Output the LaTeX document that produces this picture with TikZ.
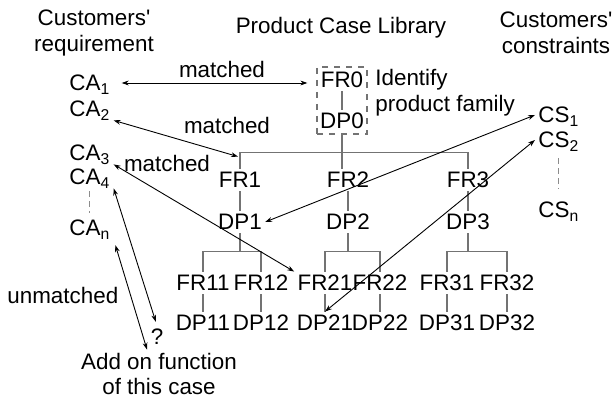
\documentclass[tikz,border=0pt]{standalone}
\usepackage{fontspec}
\setmainfont{Liberation Sans}[Ligatures=TeXOff]
\usetikzlibrary{arrows.meta, positioning}
\definecolor{treeGray}{gray}{0.45}
\definecolor{dashGray}{gray}{0.55}

\begin{document}
\begin{tikzpicture}[x=0.5pt, y=-0.5pt, >={Stealth[length=3.5pt,width=2.4pt]},
    every node/.style={font=\fontsize{11.2}{12.8}\selectfont, inner sep=1.5pt},
    item/.style={text height=8pt, text depth=0pt},
    tree/.style={treeGray, line width=0.6pt},
    link/.style={<->, line width=0.45pt},
    dots/.style={dashGray, line width=0.6pt, dash pattern=on 3pt off 2pt}]
    \useasboundingbox (0,0) rectangle (614,399);

    % Headings
    \node[align=center] (hreq) at (94,33) {Customers'\\requirement};
    \node (hlib) at (341,28) {Product Case Library};
    \node[align=center] (hcon) at (556,33) {Customers'\\constraints};

    % Customers' requirement
    \node[item, anchor=west] (ca1) at (66,83) {CA\textsubscript{1}};
    \node[item, anchor=west] (ca2) at (66,109) {CA\textsubscript{2}};
    \node[item, anchor=west] (ca3) at (66,153) {CA\textsubscript{3}};
    \node[item, anchor=west] (ca4) at (66,177) {CA\textsubscript{4}};
    \node[item, anchor=west] (can) at (66,228) {CA\textsubscript{n}};
    \draw[dots, shorten <=1.5pt, shorten >=2pt] (ca4.south) -- (can.north);

    % Customers' constraints
    \node[item, anchor=west] (cs1) at (535,115) {CS\textsubscript{1}};
    \node[item, anchor=west] (cs2) at (535,140) {CS\textsubscript{2}};
    \node[item, anchor=west] (csn) at (535,210) {CS\textsubscript{n}};
    \draw[dots, shorten <=3.5pt, shorten >=5pt] (cs2.south) -- (csn.north);

    % Product family
    \node[draw=treeGray, dashed, line width=0.6pt, minimum width=25pt, minimum height=33.5pt] (fam) at (342,100.5) {};
    \node[item] (fr0) at (342,80) {FR0};
    \node[item] (dp0) at (342,121) {DP0};
    \draw[tree] (fr0) -- (dp0);
    \node[align=left, anchor=west] (ident) at (372,93) {Identify\\product family};

    % Case tree
    \node[item] (fr1) at (240,180) {FR1};
    \node[item] (fr2) at (348,180) {FR2};
    \node[item] (fr3) at (468,180) {FR3};
    \node[item] (dp1) at (240,222) {DP1};
    \node[item] (dp2) at (348,222) {DP2};
    \node[item] (dp3) at (468,222) {DP3};
    \node[item] (fr11) at (203,283) {FR11};
    \node[item] (fr12) at (261,283) {FR12};
    \node[item] (fr21) at (325,283) {FR21};
    \node[item] (fr22) at (380,283) {FR22};
    \node[item] (fr31) at (447,283) {FR31};
    \node[item] (fr32) at (507,283) {FR32};
    \node[item] (dp11) at (203,323) {DP11};
    \node[item] (dp12) at (261,323) {DP12};
    \node[item] (dp21) at (325,323) {DP21};
    \node[item] (dp22) at (380,323) {DP22};
    \node[item] (dp31) at (447,323) {DP31};
    \node[item] (dp32) at (507,323) {DP32};

    \draw[tree] (fam.south) -- (fam.south |- fr2.north);
    \draw[tree] (fr1.north) -- ++(0,-16) -| (fr3.north);
    \foreach \n in {1,2,3,11,12,21,22,31,32}
        \draw[tree] (fr\n) -- (dp\n);
    \foreach \p/\a/\b in {dp1/fr11/fr12, dp2/fr21/fr22, dp3/fr31/fr32} {
        \draw[tree] (\p.south) -- ++(0,18) -| (\a.north);
        \draw[tree] (\p.south) ++(0,18) -| (\b.north);
    }

    % Matching
    \draw[link, shorten <=4pt, shorten >=4.5pt] (ca1.east) -- (ca1.east -| fam.west);
    \node (m1) at (222,70) {matched};
    \draw[link] (ca2.south east) -- ([shift={(-1pt,6pt)}]fr1.north);
    \node (m2) at (227,125) {matched};
    \draw[link] (ca3.south east) -- (fr21.north west);
    \node (m3) at (167,163) {matched};
    \draw[link] (dp1.east) -- (cs1.west);
    \draw[link] (dp21.north) -- (cs2.west);

    % Unmatched
    \node[anchor=west] (um) at (4,295) {unmatched};
    \node[item] (q) at (157,337) {?};
    \node[align=center] (addon) at (159,374) {Add on function\\of this case};
    \draw[link, shorten >=2pt] (ca4.south east) -- (q.north);
    \draw[link, shorten <=3pt] (can.south east) -- ([xshift=-6pt]addon.north);
\end{tikzpicture}
\end{document}
